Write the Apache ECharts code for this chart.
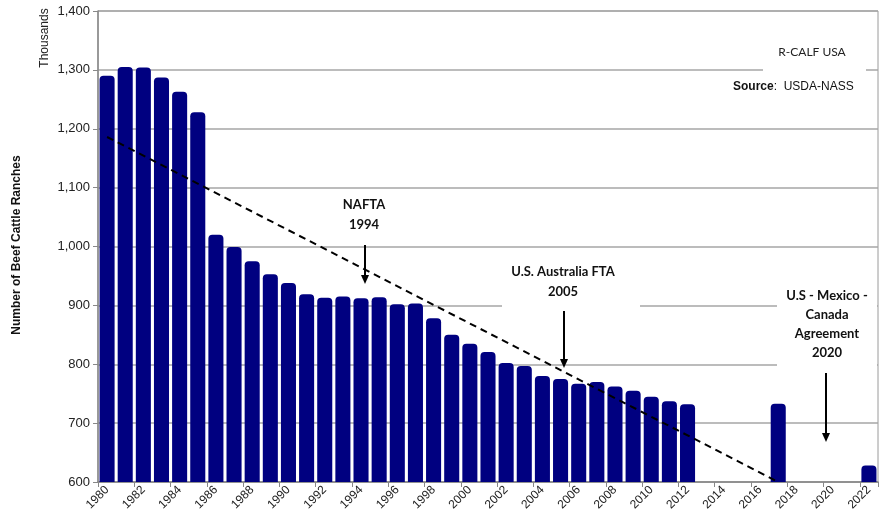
<!DOCTYPE html>
<html><head><meta charset="utf-8">
<script src="https://cdn.jsdelivr.net/npm/echarts@6/dist/echarts.min.js"></script>
<style>html,body{margin:0;padding:0;background:#fff}#c{width:888px;height:522px}</style>
</head><body><div id="c"></div>
<script>
var years = [];
for (var y = 1980; y <= 2022; y++) years.push(String(y));
var ranches = [1290,1305,1304,1287,1263,1228,1020,999,975,953,938,919,913,915,912,914,902,903,878,850,835,821,802,797,780,775,767,770,762,755,745,737,732,null,null,null,null,733,null,null,null,null,628];
var trendYears = ['1980','2017'];
var trendValues = [1186, 600];
var yTicks = [600,700,800,900,1000,1100,1200,1300,1400];

var trend = years.map(function(yr){ var i = trendYears.indexOf(yr); return i >= 0 ? trendValues[i] : null; });

var chart = echarts.init(document.getElementById('c'));
var boldFont = 'Lato, "Open Sans", sans-serif';
function label(x, y, text, lh) {
  return { type:'text', x:x, y:y, z:20, style:{ text:text, fill:'#111', font:'bold 13px ' + boldFont, align:'center', verticalAlign:'top', lineHeight: lh || 20 } };
}
function box(x, y, w, h) {
  return { type:'rect', shape:{x:x,y:y,width:w,height:h}, z:10, style:{fill:'#fff'} };
}
function arrow(x, y1, y2) {
  return [
    { type:'line', z:20, shape:{x1:x,y1:y1,x2:x,y2:y2-8}, style:{stroke:'#000', lineWidth:2} },
    { type:'polygon', z:20, shape:{points:[[x-4,y2-9],[x+4,y2-9],[x,y2]]}, style:{fill:'#000'} }
  ];
}
var graphics = [
  box(763, 58, 103, 22),
  box(502, 258, 138, 52),
  box(777, 282, 100, 88),
  { type:'text', x:45, y:38, rotation:Math.PI/2, z:20, style:{ text:'Thousands', fill:'#222', font:'12px "Liberation Sans", Arial, sans-serif', align:'center', verticalAlign:'middle' } },
  { type:'text', x:17, y:245, rotation:Math.PI/2, z:20, style:{ text:'Number of Beef Cattle Ranches', fill:'#111', font:'bold 12px "Liberation Sans", Arial, sans-serif', align:'center', verticalAlign:'middle' } },
  { type:'text', x:812, y:46, z:20, style:{ text:'R-CALF USA', fill:'#222', font:'12px ' + boldFont, align:'center', verticalAlign:'top' } },
  { type:'text', x:733, y:81, z:20, style:{ text:'{b|Source}:  USDA-NASS', fill:'#111', font:'12px "Liberation Sans", Arial, sans-serif', align:'left', verticalAlign:'top', rich:{ b:{ fontWeight:'bold', fontSize:12, fontFamily:'"Liberation Sans", Arial, sans-serif', fill:'#111' } } } },
  label(364, 195, 'NAFTA\n1994'),
  label(563, 262, 'U.S. Australia FTA\n2005'),
  label(827, 286, 'U.S - Mexico -\nCanada\nAgreement\n2020', 19)
].concat(arrow(365, 245, 284)).concat(arrow(564, 311, 368)).concat(arrow(826, 373, 442));

chart.setOption({
  animation: false,
  grid: { left: 98, right: 10, top: 11, bottom: 40, show: true, borderColor: '#9a9a9a', borderWidth: 1 },
  xAxis: {
    type: 'category', data: years, boundaryGap: true,
    axisLine: { lineStyle: { color: '#888', width: 1.5 } },
    axisTick: { show: true, interval: 1, alignWithLabel: false, length: 5, lineStyle: { color: '#888' } },
    axisLabel: { interval: 1, rotate: 45, color: '#222', fontSize: 12, fontFamily: '"Liberation Sans", Arial, sans-serif', margin: 6 }
  },
  yAxis: {
    type: 'value', min: 600, max: 1400, interval: 100,
    axisLine: { show: true, lineStyle: { color: '#888', width: 1.5 } },
    axisTick: { show: true, length: 5, lineStyle: { color: '#888' } },
    splitLine: { lineStyle: { color: '#a6a6a6', width: 1.5 } },
    axisLabel: { color: '#222', fontSize: 13, fontFamily: '"Liberation Sans", Arial, sans-serif', margin: 8,
      formatter: function(v){ return yTicks.indexOf(v) >= 0 ? v.toLocaleString('en-US') : ''; } }
  },
  series: [
    { type: 'bar', data: ranches, barCategoryGap: '17%', itemStyle: { color: '#000080', borderRadius: [4,4,0,0] }, z: 2 },
    { type: 'line', data: trend, connectNulls: true, symbol: 'none', z: 3,
      lineStyle: { color: '#000', width: 2, type: [7,5] } }
  ],
  graphic: graphics
});
</script></body></html>
